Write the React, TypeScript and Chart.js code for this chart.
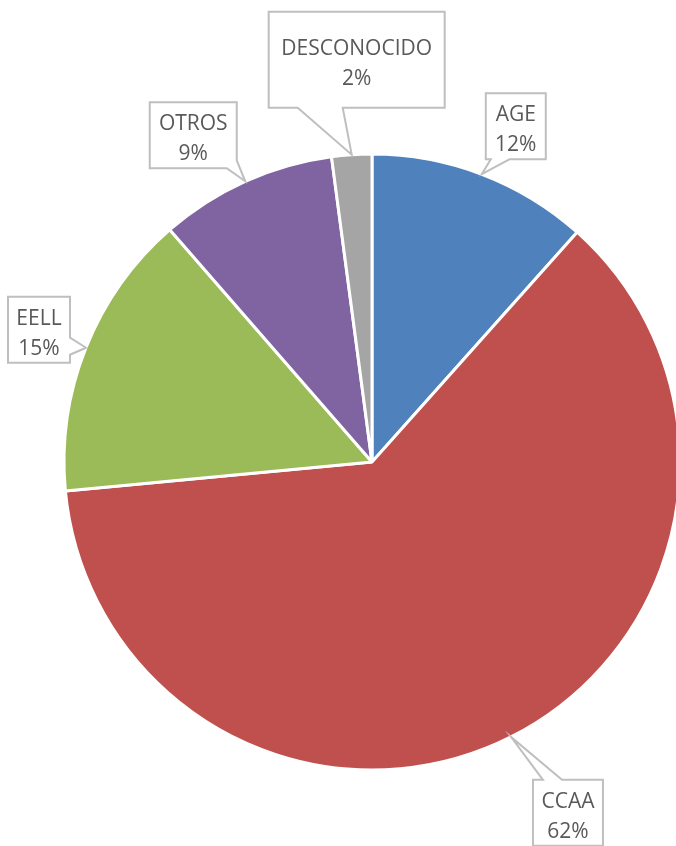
import React, { useEffect, useRef } from "react";
import { Chart, registerables } from "chart.js";

Chart.register(...registerables);

const categories = ["AGE", "CCAA", "EELL", "OTROS", "DESCONOCIDO"];
const shares = [11.6, 61.9, 15.1, 9.3, 2.1];
const sliceColors = ["#4f81bd", "#c0504d", "#9bbb59", "#8064a2", "#a5a5a5"];

// Callout layout: box centre offset from the slice's outer mid point, box size,
// and the two wedge base points (relative to the box's top-left corner).
const calloutLayout = [
  { dx: 34, dy: -48, w: 60, h: 66, base: [[5, 66], [24, 66]] },
  { dx: 57, dy: 76, w: 70, h: 66, base: [[10, 0], [29, 0]] },
  { dx: -47, dy: -18, w: 62, h: 66, base: [[62, 41], [62, 58]] },
  { dx: -52, dy: -46, w: 87, h: 66, base: [[77, 66], [87, 58]] },
  { dx: 5, dy: -95, w: 176, h: 96, base: [[29, 96], [74, 96]] },
];

function perimT(w: number, h: number, x: number, y: number) {
  const eps = 0.5;
  if (Math.abs(y) < eps) return x;
  if (Math.abs(x - w) < eps) return w + y;
  if (Math.abs(y - h) < eps) return w + h + (w - x);
  return 2 * w + h + (h - y);
}

const calloutPlugin = {
  id: "callouts",
  afterDatasetsDraw(chart: any) {
    const ctx = chart.ctx as CanvasRenderingContext2D;
    const meta = chart.getDatasetMeta(0);
    const data = chart.data.datasets[0].data as number[];
    const total = data.reduce((a, b) => a + b, 0);
    meta.data.forEach((el: any, i: number) => {
      const p = el.getProps(["x", "y", "startAngle", "endAngle", "outerRadius"], true);
      const mid = (p.startAngle + p.endAngle) / 2;
      const tipX = p.x + Math.cos(mid) * p.outerRadius;
      const tipY = p.y + Math.sin(mid) * p.outerRadius;
      const L = calloutLayout[i];
      const cx = tipX + L.dx;
      const cy = tipY + L.dy;
      const left = cx - L.w / 2;
      const top = cy - L.h / 2;
      const w = L.w;
      const h = L.h;
      const P = 2 * w + 2 * h;
      let ta = perimT(w, h, L.base[0][0], L.base[0][1]);
      let tb = perimT(w, h, L.base[1][0], L.base[1][1]);
      let pa = L.base[0];
      let pb = L.base[1];
      if (ta > tb) {
        [ta, tb] = [tb, ta];
        [pa, pb] = [pb, pa];
      }
      const cornerT = [0, w, w + h, 2 * w + h];
      const cornerP = [[0, 0], [w, 0], [w, h], [0, h]];
      const corners: { t: number; pt: number[] }[] = [];
      for (let k = 0; k < 4; k++) {
        for (const off of [0, P]) {
          const t = cornerT[k] + off;
          if (t > tb && t < ta + P) corners.push({ t, pt: cornerP[k] });
        }
      }
      corners.sort((a, b) => a.t - b.t);

      ctx.save();
      ctx.beginPath();
      ctx.moveTo(left + pa[0], top + pa[1]);
      ctx.lineTo(tipX, tipY);
      ctx.lineTo(left + pb[0], top + pb[1]);
      corners.forEach((c) => ctx.lineTo(left + c.pt[0], top + c.pt[1]));
      ctx.closePath();
      ctx.fillStyle = "#ffffff";
      ctx.fill();
      ctx.lineWidth = 2;
      ctx.lineJoin = "miter";
      ctx.strokeStyle = "#bfbfbf";
      ctx.stroke();

      ctx.fillStyle = "#595959";
      ctx.font = "21px 'Open Sans'";
      ctx.textAlign = "center";
      ctx.textBaseline = "alphabetic";
      const pct = Math.round((data[i] / total) * 100) + "%";
      ctx.fillText(chart.data.labels[i], cx, cy - 5);
      ctx.fillText(pct, cx, cy + 25);
      ctx.restore();
    });
  },
};

export default function App() {
  const ref = useRef<HTMLCanvasElement | null>(null);
  useEffect(() => {
    if (!ref.current) return;
    const chart = new Chart(ref.current, {
      type: "pie",
      data: {
        labels: categories,
        datasets: [
          {
            data: shares,
            backgroundColor: sliceColors,
            borderColor: "#ffffff",
            borderWidth: 3,
            hoverOffset: 0,
            clip: false as any,
          },
        ],
      },
      options: {
        responsive: false,
        animation: false,
        radius: 308,
        layout: { padding: { left: 68, right: 0, top: 78, bottom: 0 } },
        plugins: {
          legend: { display: false },
          tooltip: { enabled: false },
        },
        events: [],
      } as any,
      plugins: [calloutPlugin],
    });
    return () => chart.destroy();
  }, []);
  return (
    <div style={{ position: "absolute", left: 0, top: 0, width: 676, height: 846, overflow: "hidden", background: "#fff" }}>
      <canvas ref={ref} width={676} height={846} style={{ display: "block" }} />
    </div>
  );
}
